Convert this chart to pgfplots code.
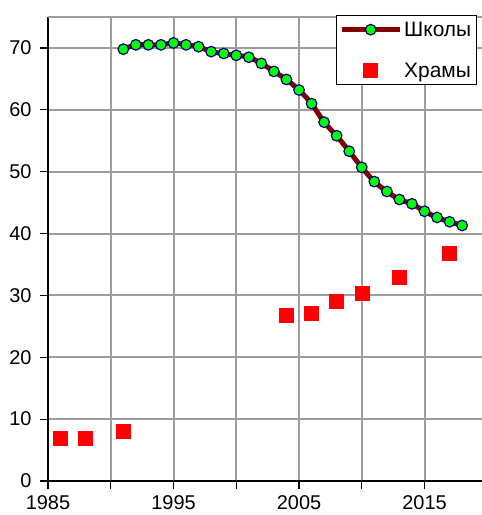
\documentclass[border=0pt]{standalone}
\usepackage{fontspec}
\setmainfont{Liberation Sans}
\usepackage{pgfplots}
\pgfplotsset{compat=1.18}
\definecolor{lineRed}{HTML}{800000}
\definecolor{markGreen}{HTML}{00FF00}
\definecolor{markBlue}{HTML}{000080}
\definecolor{sqRed}{HTML}{FF0000}
\definecolor{gridGray}{HTML}{9C9C9C}
\begin{document}
\begin{tikzpicture}
\useasboundingbox (-48bp,-34bp) rectangle (434bp,481bp);
\begin{axis}[
  scale only axis, width=434bp, height=464bp,
  xmin=1985, xmax=2019.58, ymin=0, ymax=75,
  axis lines=left,
  axis line style={-, black, line width=1.5bp},
  tick align=outside, major tick length=8bp,
  tick style={black, line width=1.2bp},
  grid=major,
  major grid style={draw=gridGray, line width=2bp},
  xtick={1985,1990,...,2015}, xticklabels={1985,,1995,,2005,,2015},
  ytick={0,10,...,70},
  extra y ticks={75}, extra y tick labels={},
  extra y tick style={major tick length=0pt},
  ticklabel style={font=\fontsize{20}{23}\selectfont},
  xticklabel style={yshift=-3bp},
  yticklabel style={xshift=-5bp},
  /pgf/number format/assume math mode=true,
  legend style={at={(0.988,1.004)}, anchor=north east, draw=black,
    line width=1.2bp, fill=white, inner xsep=3bp, inner ysep=4bp,
    row sep=21bp, font=\fontsize{21}{24}\selectfont},
  legend cell align=left,
]
\addplot[color=lineRed, line width=5bp, smooth, mark=*, mark size=5.3bp,
  mark options={fill=markGreen, draw=markBlue, line width=1.2bp},
  legend image code/.code={
    \draw[lineRed, line width=5bp] (0bp,0bp) -- (58bp,0bp);
    \draw[fill=markGreen, draw=markBlue, line width=1.2bp] (29bp,0bp) circle (5.3bp);
  }]
coordinates {
(1991,69.8)(1992,70.5)(1993,70.5)(1994,70.5)(1995,70.8)(1996,70.5)(1997,70.2)
(1998,69.4)(1999,69.1)(2000,68.8)(2001,68.5)(2002,67.5)(2003,66.2)(2004,64.9)
(2005,63.2)(2006,61.0)(2007,58.0)(2008,55.8)(2009,53.3)(2010,50.7)(2011,48.4)
(2012,46.8)(2013,45.5)(2014,44.8)(2015,43.6)(2016,42.6)(2017,41.9)(2018,41.3)
};
\addlegendentry{Школы}
\addplot[only marks, mark=square*, mark size=7bp, color=sqRed,
  legend image code/.code={
    \fill[sqRed] (22bp,-7bp) rectangle (36bp,7bp);
  }]
coordinates {
(1986,6.9)(1988,6.9)(1991,8.0)(2004,26.8)(2006,27.1)(2008,29.1)(2010,30.3)(2013,32.9)(2017,36.8)
};
\addlegendentry{Храмы}
\end{axis}
\end{tikzpicture}
\end{document}
